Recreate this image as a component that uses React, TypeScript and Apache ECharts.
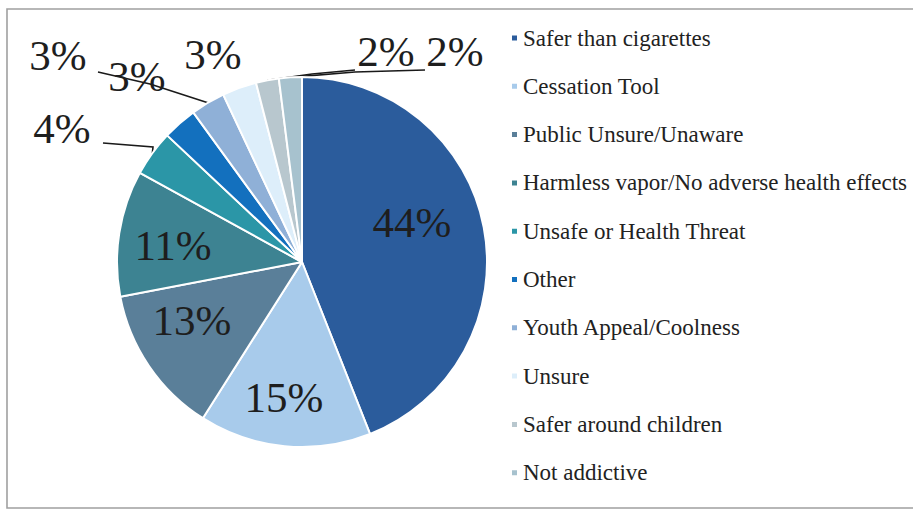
import React, { useEffect, useRef } from "react";
import * as echarts from "echarts";

// Survey answers, clockwise from 12 o'clock
const categories = [
  "Safer than cigarettes",
  "Cessation Tool",
  "Public Unsure/Unaware",
  "Harmless vapor/No adverse health effects",
  "Unsafe or Health Threat",
  "Other",
  "Youth Appeal/Coolness",
  "Unsure",
  "Safer around children",
  "Not addictive",
];
const shares = [44, 15, 13, 11, 4, 3, 3, 3, 2, 2];
const sliceColors = [
  "#2b5c9c",
  "#a8cbeb",
  "#5a7f99",
  "#3d8392",
  "#2b96a7",
  "#1370be",
  "#8fb0d7",
  "#ddeefa",
  "#b8c7ce",
  "#a7c2ce",
];

// Slices whose percentage sits inside the pie
const insideLabels = [true, true, true, true, false, false, false, false, false, false];

// Where each percentage label is centred (chart pixels)
const labelCentres: [number, number][] = [
  [412, 222],
  [284, 397],
  [192, 320],
  [173, 245],
  [62, 128],
  [137, 76],
  [58, 55],
  [213, 54],
  [386, 51],
  [455, 51],
];

// Leader-line bends/ends after leaving the slice edge (null = no line)
const leaderEnds: ([number, number][] | null)[] = [
  null,
  null,
  null,
  null,
  [[153, 147], [103, 143]],
  null,
  [[150, 84], [98, 72]],
  null,
  [[312, 74], [355, 70]],
  [[355, 72], [425, 70]],
];

const FONT = "'Liberation Serif', 'DejaVu Serif', serif";

export default function App() {
  const ref = useRef<HTMLDivElement>(null);

  useEffect(() => {
    if (!ref.current) return;
    const chart = echarts.init(ref.current, null, { renderer: "svg" });

    const data = categories.map((name, i) => ({
      name,
      value: shares[i],
      itemStyle: { color: sliceColors[i] },
      label: { position: insideLabels[i] ? "inside" : "outside" },
      labelLine: { show: leaderEnds[i] !== null },
    }));

    chart.setOption({
      animation: false,
      backgroundColor: "#ffffff",
      graphic: [
        {
          type: "polyline",
          shape: { points: [[960, 9], [7, 9], [7, 508], [960, 508]] },
          style: { fill: "none", stroke: "#a0a0a0", lineWidth: 1.6 },
          silent: true,
        },
      ],
      legend: {
        orient: "vertical",
        left: 510,
        top: 26,
        padding: 0,
        itemWidth: 7,
        itemHeight: 7,
        itemGap: 24.3,
        icon: "rect",
        selectedMode: false,
        data: categories,
        textStyle: {
          fontFamily: FONT,
          fontSize: 23,
          lineHeight: 24,
          color: "#222222",
        },
      },
      series: [
        {
          type: "pie",
          center: [302, 262],
          radius: 185,
          startAngle: 90,
          clockwise: true,
          avoidLabelOverlap: false,
          itemStyle: { borderColor: "#ffffff", borderWidth: 2 },
          label: {
            show: true,
            formatter: "{c}%",
            fontFamily: FONT,
            fontSize: 43,
            color: "#1e1e1e",
          },
          labelLine: {
            lineStyle: { color: "#1a1a1a", width: 1.6 },
          },
          labelLayout: (params: any) => {
            const i = params.dataIndex;
            const [cx, cy] = labelCentres[i];
            const out: any = { x: cx, y: cy, align: "center", verticalAlign: "middle" };
            const ends = leaderEnds[i];
            const start = params.labelLinePoints && params.labelLinePoints[0];
            if (ends && start) {
              out.labelLinePoints = [[start[0], start[1]], ...ends];
            }
            return out;
          },
          emphasis: { disabled: true },
          data,
        },
      ],
    });

    return () => chart.dispose();
  }, []);

  return (
    <div
      ref={ref}
      style={{ position: "fixed", left: 0, top: 0, width: 913, height: 510 }}
    />
  );
}
